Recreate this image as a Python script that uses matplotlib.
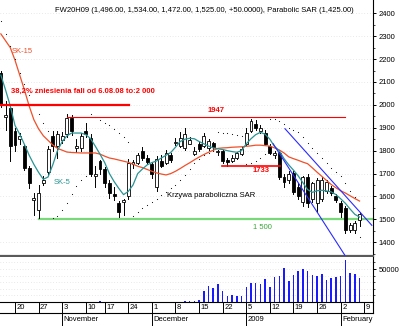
import matplotlib
matplotlib.use("Agg")
import matplotlib.pyplot as plt
from matplotlib import font_manager

# FW20H09 daily sessions, 15 Oct 2008 .. 6 Feb 2009 (index 0..76)
opens = [2140, 1945, 1985, 1887, 1852, 1822, 1726, 1585, 1540, 1660,
         1705, 1865, 1822, 1845, 1874, 1943, 1813, 1813, 1887, 1857,
         1690, 1757, 1722, 1660, 1610, 1570, 1575, 1600, 1740, 1748,
         1800, 1770, 1743, 1640, 1757, 1745, 1780, 1835, 1822, 1813,
         1830, 1787, 1830, 1822, 1813, 1835, 1795, 1800, 1760, 1757,
         1770, 1787, 1830, 1887, 1917, 1887, 1878, 1822, 1780, 1791,
         1683, 1670, 1704, 1640, 1575, 1683, 1591, 1570, 1591, 1626,
         1635, 1604, 1570, 1548, 1452, 1452, 1496]
highs = [2150, 2015, 1995, 1900, 1875, 1830, 1735, 1617, 1648, 1690,
         1822, 1887, 1887, 1880, 1960, 1955, 1850, 1875, 1922, 1874,
         1735, 1760, 1730, 1670, 1640, 1580, 1590, 1765, 1760, 1790,
         1815, 1780, 1750, 1775, 1780, 1805, 1790, 1855, 1880, 1900,
         1860, 1815, 1840, 1875, 1850, 1840, 1805, 1805, 1770, 1780,
         1795, 1815, 1900, 1940, 1935, 1910, 1890, 1830, 1800, 1795,
         1700, 1710, 1710, 1660, 1690, 1700, 1665, 1680, 1685, 1670,
         1645, 1610, 1580, 1560, 1485, 1495, 1534]
lows = [1990, 1890, 1757, 1800, 1830, 1715, 1635, 1517, 1504, 1648,
        1696, 1800, 1770, 1835, 1860, 1870, 1795, 1800, 1860, 1690,
        1640, 1700, 1640, 1595, 1583, 1510, 1520, 1590, 1725, 1740,
        1760, 1740, 1680, 1625, 1730, 1740, 1750, 1825, 1815, 1805,
        1830, 1780, 1800, 1815, 1805, 1800, 1780, 1745, 1735, 1750,
        1765, 1780, 1825, 1880, 1890, 1875, 1825, 1785, 1770, 1675,
        1640, 1660, 1610, 1590, 1560, 1555, 1575, 1530, 1580, 1615,
        1605, 1575, 1510, 1440, 1445, 1440, 1472]
closes = [2005, 1955, 1820, 1825, 1862, 1725, 1657, 1595, 1617, 1672,
          1809, 1822, 1874, 1865, 1943, 1887, 1820, 1865, 1874, 1700,
          1700, 1722, 1660, 1615, 1600, 1530, 1583, 1748, 1750, 1783,
          1770, 1750, 1700, 1765, 1735, 1790, 1760, 1838, 1857, 1874,
          1848, 1800, 1809, 1865, 1843, 1815, 1800, 1757, 1750, 1770,
          1790, 1808, 1878, 1930, 1900, 1900, 1830, 1791, 1791, 1683,
          1661, 1700, 1620, 1600, 1683, 1570, 1657, 1670, 1670, 1661,
          1613, 1583, 1530, 1452, 1474, 1483, 1525]

# moving averages as drawn on the chart
sk5 = [2130, 2065, 1995, 1910, 1872, 1827, 1780, 1740, 1705, 1675,
       1685, 1738, 1800, 1840, 1865, 1877, 1877, 1877, 1870, 1853,
       1820, 1785, 1748, 1700, 1665, 1635, 1608, 1622, 1650, 1700,
       1720, 1738, 1748, 1755, 1768, 1780, 1792, 1815, 1840, 1850,
       1854, 1852, 1840, 1830, 1820, 1812, 1808, 1805, 1800, 1796,
       1793, 1800, 1830, 1852, 1870, 1880, 1872, 1850, 1818, 1800,
       1765, 1738, 1715, 1690, 1660, 1630, 1618, 1625, 1627, 1624,
       1620, 1608, 1590, 1570, 1545, 1522, 1510]
sk15 = [2310, 2280, 2250, 2195, 2130, 2065, 1995, 1935, 1895, 1865,
        1845, 1825, 1810, 1802, 1794, 1792, 1791, 1790, 1790, 1790,
        1790, 1785, 1776, 1768, 1764, 1759, 1754, 1749, 1741, 1732,
        1726, 1718, 1710, 1703, 1698, 1694, 1700, 1710, 1722, 1735,
        1747, 1760, 1772, 1783, 1793, 1802, 1810, 1812, 1813, 1815,
        1816, 1817, 1819, 1821, 1824, 1824, 1822, 1820, 1812, 1803,
        1790, 1773, 1765, 1758, 1750, 1743, 1725, 1706, 1688, 1670,
        1652, 1638, 1625, 1615, 1603, 1591, 1580]
sar = [2365, 2310, 2255, 2200, 2140, 2090, 2045, 2000, 1960, 1920,
       1885, 1504, 1515, 1540, 1572, 1610, 1645, 1670, 1690, 1960,
       1945, 1933, 1922, 1912, 1896, 1878, 1860, 1840, 1515, 1530,
       1548, 1562, 1577, 1591, 1605, 1620, 1635, 1652, 1670, 1695,
       1722, 1745, 1765, 1780, 1792, 1800, 1880, 1878, 1876, 1872,
       1868, 1864, 1740, 1745, 1755, 1770, 1785, 1940, 1938, 1928,
       1915, 1900, 1890, 1880, 1860, 1835, 1810, 1790, 1770, 1748,
       1726, 1705, 1690, 1657, 1625, 1596, 1425]
volume = [0, 0, 0, 0, 0, 0, 0, 0, 0, 0,
          0, 0, 0, 0, 0, 0, 0, 0, 0, 0,
          0, 1500, 0, 0, 0, 0, 0, 600, 0, 0,
          0, 0, 0, 0, 0, 0, 0, 0, 600, 800,
          800, 1000, 2500, 16300, 24000, 21400, 27000, 16300, 8700, 10700,
          9700, 8700, 23000, 28500, 28500, 28000, 34700, 22400, 37700, 39200,
          51000, 31600, 40800, 46900, 49400, 46900, 41300, 39200, 41800, 33600,
          36200, 37200, 39800, 63700, 43800, 42800, 36200]

week_idx = [3, 8, 13, 18, 22, 27, 32, 37, 42, 47, 52, 57, 62, 67, 72, 77]
week_labels = ["20", "27", "3", "10", "17", "24", "1", "8", "15", "22",
               "5", "12", "19", "26", "2", "9"]
month_idx = [13, 32, 52, 72]
month_labels = ["November", "December", "2009", "February"]

title = ("FW20H09 (1,496.00, 1,534.00, 1,472.00, 1,525.00, +50.0000), "
         "Parabolic SAR (1,425.00)")

names = {f.name for f in font_manager.fontManager.ttflist}
FONT = "Liberation Sans Narrow" if "Liberation Sans Narrow" in names else "Liberation Sans"
plt.rcParams["font.family"] = [FONT, "DejaVu Sans"]
FS = 5.5

W, H = 400, 326
fig = plt.figure(figsize=(4, 3.26), dpi=100)


def box(x0, y0, x1, y1):
    return [x0 / W, 1 - y1 / H, (x1 - x0) / W, (y1 - y0) / H]


XMIN, XMAX = -0.18, 78.85
ax = fig.add_axes(box(0, 0, 373, 256))
axv = fig.add_axes(box(0, 257, 373, 302))
axd = fig.add_axes(box(0, 302, 373, 326))
for a in (ax, axv, axd):
    a.set_xlim(XMIN, XMAX)
    a.set_facecolor("white")

# ---- price panel
ax.set_ylim(1340, 2458)
for lv in range(1400, 2500, 100):
    ax.axhline(lv, color="#d4d4d4", lw=0.5, ls=(0, (1, 3)), zorder=0)

n = len(closes)
bw = 0.62
for i in range(n):
    o, h, l, c = opens[i], highs[i], lows[i], closes[i]
    ax.plot([i, i], [l, h], color="black", lw=0.7, zorder=3)
    up = c >= o
    lo, hi = min(o, c), max(o, c)
    ax.add_patch(plt.Rectangle((i - bw / 2, lo), bw, max(hi - lo, 2),
                               facecolor="white" if up else "black",
                               edgecolor="black", lw=0.6, zorder=4))

x = list(range(n))
ax.plot(x, sk15, color="#f0502a", lw=0.9, zorder=5)
ax.plot(x, sk5, color="#2a9494", lw=0.9, zorder=5)
ax.plot(x, sar, ls="none", marker="s", ms=0.75, mew=0, color="#222222", zorder=5)

# support / resistance marks
ax.plot([XMIN, 27.2], [2000, 2000], color="#ff0000", lw=1.6, zorder=6)
ax.plot([14.0, 72.9], [1947, 1947], color="#ff0000", lw=0.8, zorder=6)
ax.plot([46.9, 59.1], [1733, 1733], color="#ff0000", lw=1.2, zorder=6)
ax.plot([8.15, XMAX], [1500, 1500], color="#77d977", lw=1.6, zorder=2)
ax.plot([60.2, 78.6], [1896, 1474], color="#2a2aff", lw=0.8, zorder=6)
ax.plot([57.7, 72.9], [1830, 1343], color="#2a2aff", lw=0.8, zorder=6)

ax.text(2.2, 2061, "38,2% zniesienia fali od 6.08.08 to:2 000", color="#ff0000",
        fontsize=FS, fontweight="bold", va="center", ha="left", zorder=7)
ax.text(43.7, 1974, "1947", color="#ff0000", fontsize=FS, fontweight="bold",
        va="center", ha="left")
ax.text(53.4, 1713, "1733", color="#ff0000", fontsize=FS, fontweight="bold",
        va="center", ha="left")
ax.text(53.4, 1463, "1 500", color="#3aa63a", fontsize=FS,
        va="center", ha="left")
ax.text(2.3, 2235, "SK-15", color="#f0502a", fontsize=FS, va="center", ha="left")
ax.text(11.1, 1661, "SK-5", color="#2a9494", fontsize=FS, va="center", ha="left")
ax.text(35.1, 1604, "Krzywa paraboliczna SAR", color="black", fontsize=FS,
        va="center", ha="left")

ax.yaxis.tick_right()
ax.set_yticks(range(1400, 2500, 100))
ax.set_yticks(range(1350, 2450, 50), minor=True)
ax.tick_params(axis="y", which="major", direction="out", length=2.5, width=0.7,
               labelsize=FS, pad=1.5)
ax.tick_params(axis="y", which="minor", direction="out", length=1.3, width=0.5)
ax.set_xticks([])
for s in ("top", "left"):
    ax.spines[s].set_visible(False)
ax.spines["right"].set_linewidth(0.8)
ax.spines["bottom"].set_color("#5a5a5a")
ax.spines["bottom"].set_linewidth(1.6)

# ---- volume panel
axv.set_ylim(0, 68200)
for lv in range(10000, 70000, 10000):
    axv.axhline(lv, color="#d4d4d4", lw=0.5, ls=(0, (1, 3)), zorder=0)
axv.bar(x, volume, width=0.32, color="#1a1aff", zorder=3)
axv.yaxis.tick_right()
axv.set_yticks([50000])
axv.set_yticklabels(["50000"])
axv.set_yticks(range(10000, 70000, 10000), minor=True)
axv.tick_params(axis="y", which="major", direction="out", length=2.5, width=0.7,
                labelsize=FS, pad=1.5)
axv.tick_params(axis="y", which="minor", direction="out", length=1.3, width=0.5)
axv.set_xticks([])
for s in ("top", "left", "bottom"):
    axv.spines[s].set_visible(False)
axv.spines["right"].set_linewidth(0.8)

# ---- date strip
axd.set_ylim(0, 1)
axd.axis("off")
mid = 0.54
axd.plot([XMIN, XMAX], [1, 1], color="black", lw=0.8)
axd.plot([XMIN, XMAX], [mid, mid], color="black", lw=0.8)
axd.plot([XMAX, XMAX], [mid, 1], color="black", lw=0.8)
for t, lab in zip(week_idx, week_labels):
    axd.plot([t, t], [mid, 1], color="black", lw=0.7)
    axd.text(t + 0.3, (1 + mid) / 2, lab, fontsize=FS, va="center", ha="left")
for t, lab in zip(month_idx, month_labels):
    axd.plot([t, t], [0, mid], color="black", lw=0.7)
    axd.text(t + 0.3, mid / 2, lab, fontsize=FS, va="center", ha="left")
for ln in axd.lines:
    ln.set_clip_on(False)

fig.text(55 / W, 1 - 10 / H, title, fontsize=FS, va="center", ha="left")

fig.savefig("out.png", dpi=100)
